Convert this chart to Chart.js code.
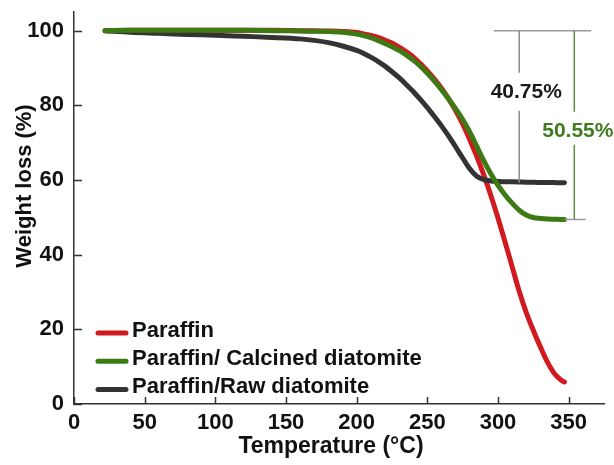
<!DOCTYPE html>
<html>
<head>
<meta charset="utf-8">
<script src="https://cdn.jsdelivr.net/npm/chart.js@4.4.1/dist/chart.umd.min.js"></script>
<style>
  html, body { margin: 0; padding: 0; background: #ffffff; }
  #wrap { width: 614px; height: 465px; }
</style>
</head>
<body>
<div id="wrap"><canvas id="tga" width="614" height="465"></canvas></div>
<script>
// TGA curves: sample temperatures (°C) and residual weight (%) for each sample
const temperature = [22, 40, 60, 80, 100, 120, 140, 160, 170, 180, 190, 200,
  205, 210, 215, 220, 225, 230, 235, 240, 245, 250, 255, 260, 265, 270, 275,
  280, 285, 290, 295, 300, 305, 310, 315, 320, 325, 330, 335, 340, 345, 347];
const paraffin = [100, 100.1, 100.1, 100.1, 100.1, 100.1, 100.1, 100, 99.95, 99.9, 99.8, 99.5,
  99.1, 98.7, 98.2, 97.5, 96.7, 95.6, 94.4, 93.0, 91.2, 89.2, 87.0, 84.6, 81.8, 78.6, 75.0,
  70.8, 66.3, 61.3, 55.8, 49.8, 43.4, 36.8, 30.2, 24.5, 19.7, 15.3, 11.2, 8.1, 6.3, 5.9];
const calcined = [100, 100.1, 100.1, 100.1, 100.1, 100.1, 100, 99.9, 99.85, 99.8, 99.6, 99.1,
  98.7, 98.1, 97.4, 96.6, 95.7, 94.7, 93.5, 92.1, 90.5, 88.6, 86.5, 84.2, 81.7, 79.1, 76.2,
  72.9, 69.0, 65.1, 61.6, 58.6, 56.0, 53.8, 51.9, 50.6, 49.95, 49.7, 49.55, 49.5, 49.45, 49.45];
const rawDiatom = [100, 99.6, 99.3, 99.0, 98.8, 98.5, 98.2, 97.8, 97.4, 96.8, 95.9, 94.7,
  93.9, 92.9, 91.8, 90.5, 89.0, 87.4, 85.6, 83.7, 81.6, 79.4, 77.0, 74.5, 71.8, 68.9, 65.9,
  63.0, 61.0, 60.1, 59.75, 59.6, 59.55, 59.5, 59.45, 59.4, 59.38, 59.35, 59.32, 59.3, 59.27, 59.25];

const seriesNames = ['Paraffin', 'Paraffin/ Calcined diatomite', 'Paraffin/Raw diatomite'];
const xTicks = [0, 50, 100, 150, 200, 250, 300, 350];
const yTicks = [0, 20, 40, 60, 80, 100];
const xTitle = 'Temperature (°C)';
const yTitle = 'Weight loss (%)';

const FONT = "'Liberation Sans', Arial, sans-serif";
const COLORS = ['#d01a1f', '#3d7a14', '#333333'];

function toPoints(ys) {
  return temperature.map((t, i) => ({ x: t, y: ys[i] }));
}

// Inward tick marks on both axes
const innerTicks = {
  id: 'innerTicks',
  afterDraw(chart) {
    const { ctx, chartArea, scales: { x, y } } = chart;
    ctx.save();
    ctx.strokeStyle = '#333333';
    ctx.lineWidth = 1.5;
    ctx.beginPath();
    xTicks.forEach(v => {
      const px = Math.round(x.getPixelForValue(v)) + 0.5;
      ctx.moveTo(px, chartArea.bottom);
      ctx.lineTo(px, chartArea.bottom - 7);
    });
    yTicks.forEach(v => {
      const py = Math.round(y.getPixelForValue(v)) + 0.5;
      ctx.moveTo(chartArea.left, py);
      ctx.lineTo(chartArea.left + 8, py);
    });
    ctx.stroke();
    ctx.restore();
  }
};

// Axis titles
const axisTitles = {
  id: 'axisTitles',
  afterDraw(chart) {
    const { ctx } = chart;
    ctx.save();
    ctx.fillStyle = '#111111';
    ctx.textAlign = 'center';
    ctx.textBaseline = 'middle';
    ctx.font = 'bold 23px ' + FONT;
    ctx.fillText(xTitle, 331, 447);
    ctx.translate(25, 186);
    ctx.rotate(-Math.PI / 2);
    ctx.font = 'bold 22px ' + FONT;
    ctx.fillText(yTitle, 0, 0);
    ctx.restore();
  }
};

// Weight-loss brackets with their percentage labels
const lossBrackets = {
  id: 'lossBrackets',
  afterDatasetsDraw(chart) {
    const { ctx, scales: { x, y } } = chart;
    const rawEnd = rawDiatom[rawDiatom.length - 1];
    const calEnd = calcined[calcined.length - 1];
    const start = 100;
    const X = v => x.getPixelForValue(v);
    const Y = v => y.getPixelForValue(v);

    ctx.save();
    ctx.lineWidth = 1.5;

    // top reference line
    ctx.strokeStyle = '#9a9a9a';
    ctx.beginPath();
    ctx.moveTo(X(297), Y(start)); ctx.lineTo(X(366), Y(start));
    // bottom reference line at calcined residue
    ctx.moveTo(X(347), Y(calEnd)); ctx.lineTo(X(362), Y(calEnd));
    ctx.stroke();

    ctx.font = 'bold 21px ' + FONT;
    ctx.textAlign = 'center';
    ctx.textBaseline = 'middle';

    // raw diatomite composite bracket
    const t1 = (start - rawEnd).toFixed(2) + '%';
    const lx1 = X(320), ly1 = Y(83.4);
    ctx.strokeStyle = '#8a8a8a';
    ctx.beginPath();
    ctx.moveTo(X(315), Y(start)); ctx.lineTo(X(315), ly1 - 20);
    ctx.moveTo(X(315), ly1 + 18); ctx.lineTo(X(315), Y(rawEnd));
    ctx.stroke();
    ctx.fillStyle = '#1a1a1a';
    ctx.fillText(t1, lx1, ly1);

    // calcined diatomite composite bracket
    const t2 = (start - calEnd).toFixed(2) + '%';
    const lx2 = X(356.5), ly2 = Y(73.2);
    ctx.strokeStyle = '#5d8a45';
    ctx.beginPath();
    ctx.moveTo(X(354), Y(start)); ctx.lineTo(X(354), ly2 - 19);
    ctx.moveTo(X(354), ly2 + 14); ctx.lineTo(X(354), Y(calEnd));
    ctx.stroke();
    ctx.fillStyle = '#3f7a1e';
    ctx.fillText(t2, lx2, ly2);
    ctx.restore();
  }
};

// Legend drawn inside the plot, lower left
const innerLegend = {
  id: 'innerLegend',
  afterDatasetsDraw(chart) {
    const { ctx } = chart;
    ctx.save();
    ctx.font = 'bold 22px ' + FONT;
    ctx.textAlign = 'left';
    ctx.textBaseline = 'middle';
    seriesNames.forEach((name, i) => {
      const cy = 333 + i * 28.2;
      ctx.strokeStyle = COLORS[i];
      ctx.lineWidth = 5;
      ctx.lineCap = 'round';
      ctx.beginPath();
      ctx.moveTo(98, cy); ctx.lineTo(126, cy);
      ctx.stroke();
      ctx.fillStyle = '#111111';
      ctx.fillText(name, 132, cy - 2);
    });
    ctx.restore();
  }
};

const seriesData = [paraffin, calcined, rawDiatom];
const drawOrder = [2, 0, 1];

new Chart(document.getElementById('tga'), {
  type: 'line',
  data: {
    datasets: seriesData.map((ys, i) => ({
      label: seriesNames[i],
      data: toPoints(ys),
      borderColor: COLORS[i],
      backgroundColor: COLORS[i],
      borderWidth: 5,
      borderCapStyle: 'round',
      borderJoinStyle: 'round',
      pointRadius: 0,
      cubicInterpolationMode: 'monotone',
      fill: false,
      order: drawOrder[i]
    }))
  },
  options: {
    responsive: false,
    animation: false,
    devicePixelRatio: 1,
    layout: { padding: { top: 12, right: 10, left: 0, bottom: 0 } },
    plugins: {
      legend: { display: false },
      tooltip: { enabled: false }
    },
    scales: {
      x: {
        type: 'linear',
        min: 0,
        max: 375,
        grid: { display: false, drawTicks: false, tickLength: 0 },
        border: { color: '#333333', width: 1.5 },
        afterFit(scale) {
          scale.height = 61;
          scale.paddingLeft = 0;
          scale.paddingRight = 0;
        },
        afterBuildTicks(scale) { scale.ticks = xTicks.map(v => ({ value: v })); },
        ticks: {
          padding: 6,
          color: '#111111',
          font: { family: FONT, size: 22, weight: 'bold' },
          maxRotation: 0
        },
        title: { display: false, text: xTitle }
      },
      y: {
        min: 0,
        max: 105,
        grid: { display: false, drawTicks: false, tickLength: 0 },
        border: { color: '#333333', width: 1.5 },
        afterFit(scale) {
          scale.width = 74;
          scale.paddingTop = 0;
          scale.paddingBottom = 0;
        },
        afterBuildTicks(scale) { scale.ticks = yTicks.map(v => ({ value: v })); },
        ticks: {
          padding: 10,
          color: '#111111',
          font: { family: FONT, size: 22, weight: 'bold' }
        },
        title: { display: false, text: yTitle }
      }
    }
  },
  plugins: [innerTicks, lossBrackets, innerLegend, axisTitles]
});
</script>
</body>
</html>
